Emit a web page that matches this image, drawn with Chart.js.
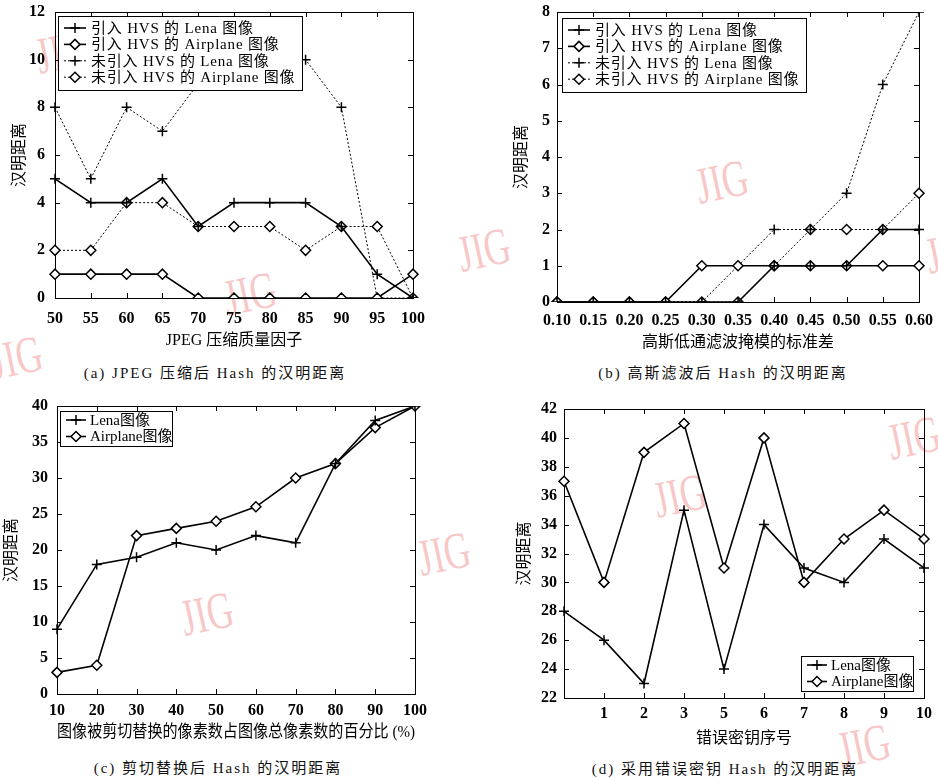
<!DOCTYPE html>
<html>
<head>
<meta charset="utf-8">
<script src="https://cdn.jsdelivr.net/npm/chart.js@4.4.1/dist/chart.umd.min.js"></script>
<style>
  body { margin: 0; background: #fff; }
  #page { position: relative; width: 938px; height: 778px; overflow: hidden; background: #fff; }
  canvas { position: absolute; z-index: 1; }
  .cap { position: absolute; z-index: 2; white-space: nowrap; transform: translate(-50%, -50%);
         font: 15px "Liberation Serif", "Noto Sans CJK SC", serif; letter-spacing: 2px; color: #111; }
  .wm { position: absolute; z-index: 0; font: 52px "Liberation Serif", serif; color: rgba(240,120,120,0.42);
        transform: rotate(-12deg) scaleX(0.7); transform-origin: left top; }
</style>
</head>
<body>
<div id="page">
  <span class="wm" style="left:30px;top:28px">JIG</span>
  <span class="wm" style="left:218px;top:270px">JIG</span>
  <span class="wm" style="left:452px;top:226px">JIG</span>
  <span class="wm" style="left:690px;top:158px">JIG</span>
  <span class="wm" style="left:920px;top:228px">JIG</span>
  <span class="wm" style="left:-16px;top:334px">JIG</span>
  <span class="wm" style="left:175px;top:590px">JIG</span>
  <span class="wm" style="left:412px;top:530px">JIG</span>
  <span class="wm" style="left:648px;top:472px">JIG</span>
  <span class="wm" style="left:882px;top:414px">JIG</span>
  <span class="wm" style="left:832px;top:722px">JIG</span>

  <canvas id="cA" style="left:0;top:0" width="469" height="350"></canvas>
  <canvas id="cB" style="left:469px;top:0" width="469" height="352"></canvas>
  <canvas id="cC" style="left:0;top:390px" width="469" height="353"></canvas>
  <canvas id="cD" style="left:469px;top:390px" width="469" height="358"></canvas>

  <div class="cap" style="left:215px;top:371px">(a) JPEG 压缩后 Hash 的汉明距离</div>
  <div class="cap" style="left:723px;top:371px">(b) 高斯滤波后 Hash 的汉明距离</div>
  <div class="cap" style="left:218px;top:766px">(c) 剪切替换后 Hash 的汉明距离</div>
  <div class="cap" style="left:725px;top:767px">(d) 采用错误密钥 Hash 的汉明距离</div>
</div>
<script>
// (a) JPEG
const jpegQuality = ["50", "55", "60", "65", "70", "75", "80", "85", "90", "95", "100"];
const jpegHvsLena = [5, 4, 4, 5, 3, 4, 4, 4, 3, 1, 0];
const jpegHvsAirplane = [1, 1, 1, 1, 0, 0, 0, 0, 0, 0, 1];
const jpegNoHvsLena = [8, 5, 8, 7, 9, 10, 10, 10, 8, 0, 0];
const jpegNoHvsAirplane = [2, 2, 4, 4, 3, 3, 3, 2, 3, 3, 0];

// (b) gaussian
const gaussSigma = ["0.10", "0.15", "0.20", "0.25", "0.30", "0.35", "0.40", "0.45", "0.50", "0.55", "0.60"];
const gaussHvsLena = [0, 0, 0, 0, 0, 0, 1, 1, 1, 2, 2];
const gaussHvsAirplane = [0, 0, 0, 0, 1, 1, 1, 1, 1, 1, 1];
const gaussNoHvsLena = [0, 0, 0, 0, 0, 1, 2, 2, 3, 6, 8];
const gaussNoHvsAirplane = [0, 0, 0, 0, 0, 0, 1, 2, 2, 2, 3];

// (c) crop
const cropPercent = ["10", "20", "30", "40", "50", "60", "70", "80", "90", "100"];
const cropLena = [9, 18, 19, 21, 20, 22, 21, 32, 38, 40];
const cropAirplane = [3, 4, 22, 23, 24, 26, 30, 32, 37, 40];

// (d) wrong key
const keyIndex = ["", "1", "2", "3", "5", "6", "7", "8", "9", "10"];
const keyLena = [28, 26, 23, 35, 24, 34, 31, 30, 33, 31];
const keyAirplane = [37, 30, 39, 41, 31, 40, 30, 33, 35, 33];

const SERIF = '"Liberation Serif", "Noto Sans CJK SC", serif';

// box frame with inward ticks on all four sides
const frameTicks = {
  id: "frameTicks",
  beforeDatasetsDraw(chart) {
    const { ctx, chartArea: a, scales } = chart;
    const x = scales.x, y = scales.y;
    ctx.save();
    ctx.strokeStyle = "#000";
    ctx.lineWidth = 1;
    ctx.strokeRect(Math.round(a.left) + 0.5, Math.round(a.top) + 0.5,
      Math.round(a.right - a.left), Math.round(a.bottom - a.top));
    ctx.beginPath();
    x.ticks.forEach((t, i) => {
      const px = Math.round(x.getPixelForTick(i)) + 0.5;
      ctx.moveTo(px, a.bottom); ctx.lineTo(px, a.bottom - 5);
      ctx.moveTo(px, a.top); ctx.lineTo(px, a.top + 5);
    });
    y.ticks.forEach((t, i) => {
      const py = Math.round(y.getPixelForTick(i)) + 0.5;
      ctx.moveTo(a.left, py); ctx.lineTo(a.left + 5, py);
      ctx.moveTo(a.right, py); ctx.lineTo(a.right - 5, py);
    });
    ctx.stroke();
    ctx.restore();
  }
};

// legend box drawn inside the plot area
const boxLegend = {
  id: "boxLegend",
  afterDatasetsDraw(chart, args, o) {
    if (!o || o.w === undefined) return;
    const { ctx, chartArea: a } = chart;
    const bx = a.left + o.x, by = a.top + o.y;
    ctx.save();
    ctx.fillStyle = "#fff";
    ctx.fillRect(bx, by, o.w, o.h);
    ctx.strokeStyle = "#000";
    ctx.lineWidth = 1;
    ctx.strokeRect(Math.round(bx) + 0.5, Math.round(by) + 0.5, o.w, o.h);
    chart.data.datasets.forEach((d, i) => {
      const ry = by + o.row0 + i * o.rowH;
      ctx.beginPath();
      ctx.setLineDash(d.borderDash || []);
      ctx.lineWidth = d.borderWidth;
      ctx.moveTo(bx + o.s0, ry); ctx.lineTo(bx + o.s1, ry);
      ctx.stroke();
      ctx.setLineDash([]);
      ctx.fillStyle = "#fff";
      ctx.lineWidth = d.pointBorderWidth;
      Chart.helpers.drawPoint(ctx, { pointStyle: d.pointStyle, radius: 5, rotation: 0, borderWidth: d.pointBorderWidth },
        bx + (o.s0 + o.s1) / 2, ry);
      ctx.fillStyle = "#000";
      ctx.font = "15px " + SERIF;
      ctx.letterSpacing = o.ls + "px";
      ctx.textBaseline = "middle";
      ctx.fillText(d.label, bx + o.tx, ry + 1);
      ctx.letterSpacing = "0px";
    });
    ctx.restore();
  }
};

function series(label, data, marker, dotted) {
  return {
    label, data,
    borderColor: "#000",
    borderWidth: dotted ? 1 : 1.6,
    borderDash: dotted ? [2, 2] : [],
    pointStyle: marker,
    pointRadius: 5,
    pointBorderWidth: 1.5,
    pointBackgroundColor: "#fff",
    pointBorderColor: "#000",
    tension: 0,
    fill: false
  };
}

function makeChart(id, labels, datasets, s) {
  new Chart(document.getElementById(id), {
    type: "line",
    data: { labels, datasets },
    plugins: [frameTicks, boxLegend],
    options: {
      responsive: false,
      animation: false,
      layout: { padding: s.pad },
      plugins: { legend: { display: false }, tooltip: { enabled: false }, boxLegend: s.legend },
      scales: {
        x: {
          type: "category",
          offset: false,
          grid: { display: false, drawTicks: false },
          border: { display: false },
          afterFit: sc => { sc.height = s.xh; sc.paddingLeft = 0; sc.paddingRight = 0; },
          ticks: { color: "#000", padding: s.xpad, autoSkip: false, maxRotation: 0,
                   font: { family: SERIF, size: 16, weight: "bold" } },
          title: { display: true, text: s.xtitle, color: "#000", padding: { top: 0, bottom: 0 },
                   font: { family: SERIF, size: s.xts || 16, lineHeight: 1.2 } }
        },
        y: {
          min: s.ymin, max: s.ymax,
          grid: { display: false, drawTicks: false },
          border: { display: false },
          afterFit: sc => { sc.width = s.yw; sc.paddingTop = 0; sc.paddingBottom = 0; },
          ticks: { stepSize: s.ystep, color: "#000", padding: s.ypad,
                   font: { family: SERIF, size: 16, weight: "bold" } },
          title: { display: true, text: "汉明距离", color: "#000", padding: { top: s.ytp, bottom: 0 },
                   font: { family: SERIF, size: 16, lineHeight: 1.2 } }
        }
      }
    }
  });
}

const legendFour = (x, y) => ({ x, y, w: 244, h: 74, row0: 12, rowH: 16.4, s0: 6, s1: 28, tx: 33, ls: 0.8 });
const legendTwo = (x, y) => ({ x, y, w: 112, h: 35, row0: 9, rowH: 16.5, s0: 6, s1: 26, tx: 30, ls: 0 });

makeChart("cA", jpegQuality, [
  series("引入 HVS 的 Lena 图像", jpegHvsLena, "cross", false),
  series("引入 HVS 的 Airplane 图像", jpegHvsAirplane, "rectRot", false),
  series("未引入 HVS 的 Lena 图像", jpegNoHvsLena, "cross", true),
  series("未引入 HVS 的 Airplane 图像", jpegNoHvsAirplane, "rectRot", true)
], { pad: { left: 0, top: 12, right: 56, bottom: 0 }, xh: 52, yw: 55, xpad: 11, ypad: 10, ytp: 10,
     ymin: 0, ymax: 12, ystep: 2, xtitle: "JPEG 压缩质量因子", legend: legendFour(3, 4) });

makeChart("cB", gaussSigma, [
  series("引入 HVS 的 Lena 图像", gaussHvsLena, "cross", false),
  series("引入 HVS 的 Airplane 图像", gaussHvsAirplane, "rectRot", false),
  series("未引入 HVS 的 Lena 图像", gaussNoHvsLena, "cross", true),
  series("未引入 HVS 的 Airplane 图像", gaussNoHvsAirplane, "rectRot", true)
], { pad: { left: 40, top: 12, right: 19, bottom: 0 }, xh: 50, yw: 48, xpad: 9, ypad: 7, ytp: 3,
     ymin: 0, ymax: 8, ystep: 1, xtitle: "高斯低通滤波掩模的标准差", legend: legendFour(5, 6) });

makeChart("cC", cropPercent, [
  series("Lena图像", cropLena, "cross", false),
  series("Airplane图像", cropAirplane, "rectRot", false)
], { pad: { left: 0, top: 16, right: 54, bottom: 0 }, xh: 49, yw: 57, xpad: 7, ypad: 9, ytp: 2, xts: 17.5,
     ymin: 0, ymax: 40, ystep: 5, xtitle: "图像被剪切替换的像素数占图像总像素数的百分比 (%)", legend: legendTwo(3, 5) });

makeChart("cD", keyIndex, [
  series("Lena图像", keyLena, "cross", false),
  series("Airplane图像", keyAirplane, "rectRot", false)
], { pad: { left: 40, top: 19, right: 14, bottom: 0 }, xh: 50, yw: 55, xpad: 6, ypad: 7, ytp: 6,
     ymin: 22, ymax: 42, ystep: 2, xtitle: "错误密钥序号", legend: legendTwo(237, 247) });
</script>
</body>
</html>
